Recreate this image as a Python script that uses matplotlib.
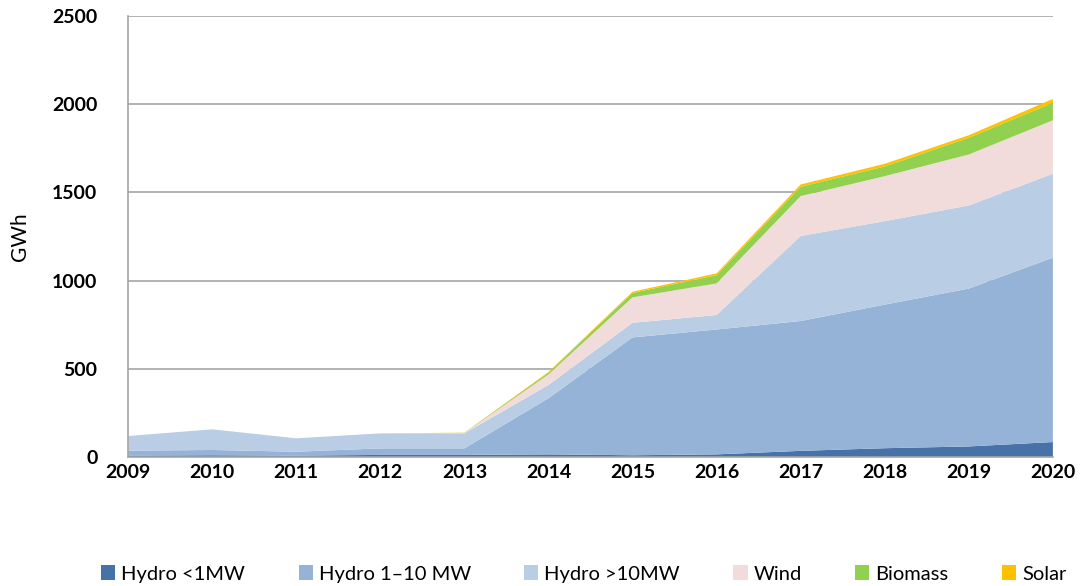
import matplotlib
matplotlib.use("Agg")
import matplotlib.pyplot as plt
from matplotlib import font_manager
import numpy as np

years = [2009, 2010, 2011, 2012, 2013, 2014, 2015, 2016, 2017, 2018, 2019, 2020]
year_labels = [str(y) for y in years]

# GWh per source
hydro_small = [8, 10, 8, 12, 12, 15, 10, 15, 35, 50, 60, 85]
hydro_mid = [28, 30, 22, 37, 37, 318, 668, 708, 736, 814, 895, 1045]
hydro_large = [83, 117, 76, 85, 85, 75, 83, 82, 482, 473, 471, 476]
wind = [0, 0, 0, 0, 2, 60, 144, 179, 226, 255, 289, 303]
biomass = [0, 0, 0, 0, 1, 10, 25, 47, 53, 55, 95, 99]
solar = [0, 0, 0, 0, 1, 4, 7, 10, 13, 15, 14, 22]

labels = ["Hydro <1MW", "Hydro 1\u201310 MW", "Hydro >10MW", "Wind", "Biomass", "Solar"]
colors = ["#4672A8", "#95B3D7", "#B9CDE5", "#F2DCDB", "#92D050", "#FFC000"]

names = {f.name for f in font_manager.fontManager.ttflist}
tick_font = "Lato" if "Lato" in names else "DejaVu Sans"

fig = plt.figure(figsize=(10.81, 5.86), dpi=100)
ax = fig.add_axes([0.1184, 0.2201, 0.8556, 0.7526])

ax.stackplot(years, hydro_small, hydro_mid, hydro_large, wind, biomass, solar,
             labels=labels, colors=colors, linewidth=0)

ax.set_xlim(2009, 2020)
ax.set_ylim(0, 2500)
ax.set_yticks(np.arange(0, 2501, 500))
ax.set_xticks(years)
ax.set_xticklabels(year_labels)

ax.grid(axis="y", color="#A6A6A6", linewidth=1.2)
ax.set_axisbelow(True)
for s in ["top", "right"]:
    ax.spines[s].set_visible(False)
ax.spines["left"].set_color("#A6A6A6")
ax.spines["bottom"].set_color("#A6A6A6")
ax.spines["left"].set_linewidth(1.2)
ax.spines["bottom"].set_linewidth(1.2)
ax.tick_params(axis="both", length=0, labelsize=14)
ax.tick_params(axis="y", pad=22)
ax.tick_params(axis="x", pad=5)
for t in ax.get_xticklabels() + ax.get_yticklabels():
    t.set_fontfamily(tick_font)
    t.set_fontweight("bold")

ax.set_ylabel("GWh", fontsize=15, fontfamily=tick_font, labelpad=16)

leg = fig.legend(loc="lower center", bbox_to_anchor=(0.54, -0.025), ncol=6, frameon=False,
                 handlelength=0.7, handleheight=0.7, handletextpad=0.3, columnspacing=2.65,
                 prop={"family": tick_font, "size": 14.5})

fig.savefig("out.png", dpi=100)
